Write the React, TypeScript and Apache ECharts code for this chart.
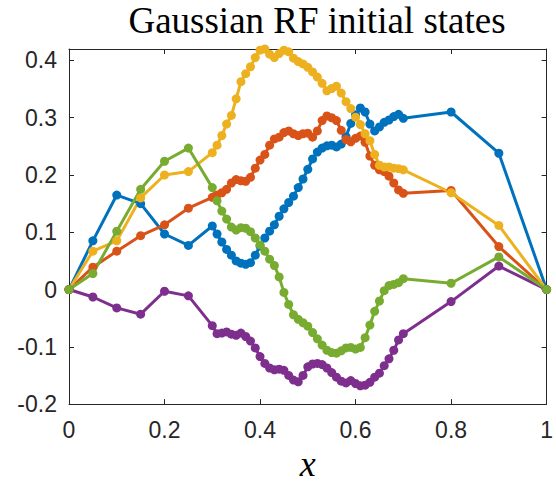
import React, { useEffect, useRef } from "react";
import * as echarts from "echarts";

const xValues = [
  0, 0.05, 0.1, 0.15, 0.2, 0.25, 0.3,
  0.31, 0.32, 0.33, 0.34, 0.35, 0.36, 0.37, 0.38, 0.39, 0.4,
  0.41, 0.42, 0.43, 0.44, 0.45, 0.46, 0.47, 0.48, 0.49, 0.5,
  0.51, 0.52, 0.53, 0.54, 0.55, 0.56, 0.57, 0.58, 0.59, 0.6,
  0.61, 0.62, 0.63, 0.64, 0.65, 0.66, 0.67, 0.68, 0.69, 0.7,
  0.8, 0.9, 1,
];

const blueY = [
  0, 0.085, 0.165, 0.15, 0.097, 0.077, 0.111,
  0.097, 0.083, 0.07, 0.06, 0.05, 0.046, 0.044, 0.047, 0.06, 0.076,
  0.09, 0.102, 0.113, 0.128, 0.141, 0.152, 0.163, 0.178, 0.193, 0.21,
  0.228, 0.24, 0.247, 0.251, 0.252, 0.249, 0.254, 0.267, 0.29, 0.305,
  0.317, 0.31, 0.289, 0.277, 0.284, 0.292, 0.296, 0.302, 0.306, 0.299,
  0.31, 0.238, 0,
];

const orangeY = [
  0, 0.039, 0.067, 0.094, 0.113, 0.142, 0.161,
  0.165, 0.169, 0.175, 0.186, 0.192, 0.19, 0.189, 0.196, 0.212, 0.226,
  0.236, 0.252, 0.263, 0.266, 0.274, 0.277, 0.272, 0.269, 0.272, 0.273,
  0.266, 0.277, 0.295, 0.303, 0.3, 0.295, 0.278, 0.262, 0.258, 0.264,
  0.268, 0.257, 0.233, 0.217, 0.209, 0.206, 0.198, 0.186, 0.174, 0.168,
  0.173, 0.075, 0,
];

const yellowY = [
  0, 0.067, 0.085, 0.16, 0.2, 0.206, 0.239,
  0.252, 0.269, 0.289, 0.304, 0.333, 0.363, 0.377, 0.389, 0.405, 0.418,
  0.42, 0.411, 0.405, 0.412, 0.418, 0.415, 0.404, 0.398, 0.394, 0.388,
  0.38, 0.371, 0.36, 0.347, 0.351, 0.355, 0.343, 0.328, 0.316, 0.301,
  0.288, 0.272, 0.26, 0.236, 0.217, 0.214, 0.214, 0.212, 0.211, 0.209,
  0.169, 0.112, 0,
];

const purpleY = [
  0, -0.013, -0.032, -0.043, -0.003, -0.011, -0.063,
  -0.077, -0.076, -0.074, -0.078, -0.08, -0.076, -0.082, -0.09, -0.102, -0.117,
  -0.129, -0.137, -0.14, -0.139, -0.141, -0.15, -0.158, -0.161, -0.15, -0.135,
  -0.13, -0.129, -0.131, -0.137, -0.145, -0.153, -0.16, -0.163, -0.159, -0.164,
  -0.168, -0.167, -0.162, -0.153, -0.146, -0.133, -0.121, -0.106, -0.088, -0.077,
  -0.021, 0.041, 0,
];

const greenY = [
  0, 0.028, 0.102, 0.175, 0.224, 0.247, 0.178,
  0.155, 0.137, 0.123, 0.109, 0.104, 0.108, 0.107, 0.101, 0.09, 0.078,
  0.067, 0.053, 0.042, 0.022, -0.005, -0.026, -0.044, -0.052, -0.058, -0.064,
  -0.075, -0.086, -0.097, -0.106, -0.11, -0.111, -0.107, -0.102, -0.101, -0.104,
  -0.101, -0.084, -0.062, -0.038, -0.02, -0.002, 0.007, 0.009, 0.012, 0.019,
  0.011, 0.057, 0,
];

const seriesDefs = [
  { name: "blue", color: "#0072BD", ys: blueY },
  { name: "orange", color: "#D95319", ys: orangeY },
  { name: "yellow", color: "#EDB120", ys: yellowY },
  { name: "purple", color: "#7E2F8E", ys: purpleY },
  { name: "green", color: "#77AC30", ys: greenY },
];

const titleText = "Gaussian RF initial states";
const xLabel = "x";

export default function App() {
  const ref = useRef<HTMLDivElement>(null);
  useEffect(() => {
    if (!ref.current) return;
    const chart = echarts.init(ref.current, undefined, { renderer: "svg" });
    const axisColor = "#262626";
    const tickFont = { color: axisColor, fontSize: 23, fontFamily: "Liberation Sans, Arial, sans-serif" };
    const line = { show: true, onZero: false, lineStyle: { color: axisColor, width: 1 } };
    const tick = { show: true, inside: true, length: 5, lineStyle: { color: axisColor } };
    chart.setOption({
      animation: false,
      backgroundColor: "#fff",
      grid: { left: 69, top: 49, width: 484, height: 363, containLabel: false },
      graphic: [
        {
          type: "text",
          x: 317,
          y: 2,
          style: {
            text: titleText,
            font: '37px "Liberation Serif", serif',
            fill: "#000",
            textAlign: "center",
          },
        },
      ],
      xAxis: [
        {
          type: "value",
          min: 0,
          max: 1,
          interval: 0.2,
          position: "bottom",
          axisLine: line,
          axisTick: tick,
          splitLine: { show: false },
          axisLabel: { ...tickFont, margin: 14 },
          name: xLabel,
          nameLocation: "middle",
          nameGap: 19,
          nameTextStyle: { fontFamily: "Liberation Serif, serif", fontStyle: "italic", fontSize: 36, color: "#000" },
        },
        {
          type: "value",
          min: 0,
          max: 1,
          interval: 0.2,
          position: "top",
          axisLine: line,
          axisTick: tick,
          splitLine: { show: false },
          axisLabel: { show: false },
        },
      ],
      yAxis: [
        {
          type: "value",
          min: -0.2,
          max: 0.42,
          interval: 0.1,
          position: "left",
          axisLine: line,
          axisTick: tick,
          splitLine: { show: false },
          axisLabel: { ...tickFont, margin: 12, showMaxLabel: false },
        },
        {
          type: "value",
          min: -0.2,
          max: 0.42,
          interval: 0.1,
          position: "right",
          axisLine: line,
          axisTick: tick,
          splitLine: { show: false },
          axisLabel: { show: false },
        },
      ],
      series: seriesDefs.map((s) => ({
        name: s.name,
        type: "line",
        xAxisIndex: 0,
        yAxisIndex: 0,
        data: xValues.map((x, i) => [x, s.ys[i]]),
        symbol: "circle",
        symbolSize: 9,
        showSymbol: true,
        clip: false,
        lineStyle: { color: s.color, width: 3 },
        itemStyle: { color: s.color, borderWidth: 0 },
      })),
    });
    return () => chart.dispose();
  }, []);
  return (
    <div
      ref={ref}
      style={{ position: "absolute", left: 0, top: 0, width: 556, height: 487 }}
    />
  );
}
